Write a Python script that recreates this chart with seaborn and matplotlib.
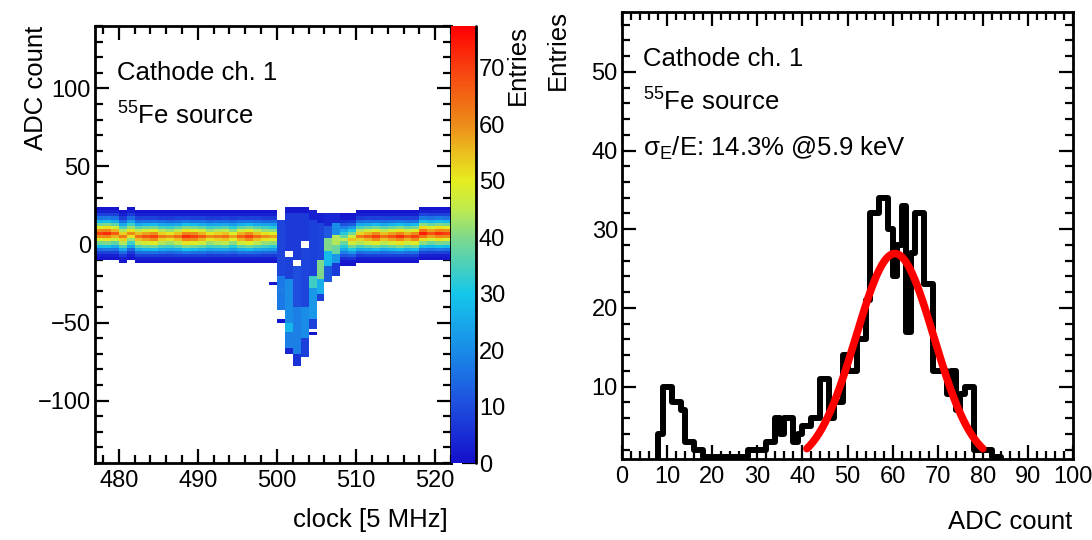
import numpy as np
import pandas as pd
import matplotlib
matplotlib.use("Agg")
import matplotlib.pyplot as plt
import seaborn as sns
from matplotlib.colors import LinearSegmentedColormap
from matplotlib.ticker import MultipleLocator

# ---------------- data: left panel (2D waveform histogram) ----------------
clock_range = (477, 522)
adc_range = (-140, 140)
adc_bin = 2

# baseline columns: clock, band centre (lower edge of centre ADC bin), peak entries
base_clock_left = list(range(477, 500))
base_center_left = [6, 6, 6, 4, 6, 4, 4, 4, 4, 4, 4, 4, 4, 4, 4, 4, 4, 4, 4, 4, 4, 4, 4]
base_peak_left = [70, 72, 66, 62, 60, 64, 68, 70, 62, 60, 64, 72, 70, 66, 60, 62, 64, 58, 66, 70, 64, 60, 58]
base_clock_right = list(range(508, 522))
base_center_right = [2, 2, 4, 4, 4, 4, 4, 4, 4, 4, 6, 6, 6, 6]
base_peak_right = [45, 55, 62, 66, 70, 64, 68, 72, 66, 70, 74, 68, 72, 70]

# band profile: entries vs ADC-bin offset from the band centre (for a peak of 68)
band_offsets = list(range(-8, 9))
band_profile = [1, 3, 8, 16, 27, 38, 48, 58, 68, 58, 48, 38, 27, 16, 8, 3, 1]

# pulse columns: runs of (top ADC, bottom ADC, entries per bin)
pulse_runs = {
    500: [(16, -20, 9), (-20, -42, 17), (-48, -50, 1)],
    501: [(24, 20, 2), (20, -4, 7), (-8, -22, 8), (-22, -50, 20), (-50, -56, 27), (-56, -66, 18), (-66, -70, 4)],
    502: [(24, 20, 2), (20, -10, 7), (-14, -40, 10), (-40, -70, 18), (-70, -78, 6)],
    503: [(24, 20, 2), (20, 2, 7), (-2, -40, 9), (-40, -60, 20), (-60, -72, 8)],
    504: [(22, 16, 3), (16, -20, 8), (-20, -28, 34), (-28, -48, 22), (-48, -54, 8)],
    505: [(20, 14, 3), (14, -10, 9), (-10, -22, 40), (-22, -32, 26), (-32, -36, 8)],
    506: [(20, 12, 4), (12, 4, 12), (4, -4, 40), (-4, -14, 28), (-14, -24, 12)],
    507: [(20, 14, 4), (14, 6, 20), (6, 0, 44), (0, -6, 38), (-6, -12, 22), (-12, -20, 7)],
}
outlier_cells = [(499, -26, 1), (504, -58, 1), (500, -30, 1)]

# ---------------- data: right panel (amplitude spectrum) ----------------
spec_edges = list(range(0, 101))
spec_entries = [0, 0, 0, 0, 0, 0, 0, 0, 4, 10,
                10, 8, 8, 7, 3, 3, 2, 2, 1, 1,
                1, 1, 1, 1, 1, 1, 1, 1, 2, 2,
                2, 2, 3, 3, 6, 4, 6, 6, 3, 4,
                5, 5, 6, 6, 11, 11, 6, 8, 8, 14,
                12, 12, 16, 16, 21, 32, 32, 34, 34, 30,
                24, 28, 33, 17, 27, 32, 32, 23, 23, 12,
                12, 12, 9, 12, 7, 9, 10, 10, 2, 2,
                2, 2, 1, 1, 0, 0, 0, 0, 0, 0,
                0, 0, 0, 0, 0, 0, 0, 0, 0, 0]
fit_amp, fit_mean, fit_sigma = 26.9, 60.5, 8.65
fit_range = (41, 80)

# ---------------- build tables ----------------
rows = []
for clocks, centers, peaks in ((base_clock_left, base_center_left, base_peak_left),
                               (base_clock_right, base_center_right, base_peak_right)):
    for c, ctr, pk in zip(clocks, centers, peaks):
        for off, prof in zip(band_offsets, band_profile):
            n = int(round(prof * pk / 68.0))
            if n > 0:
                rows.append((c + 0.5, ctr + off * adc_bin + 1, n))
for c, runs in pulse_runs.items():
    for top, bot, n in runs:
        for y in range(bot, top, adc_bin):
            rows.append((c + 0.5, y + 1, n))
for c, y, n in outlier_cells:
    rows.append((c + 0.5, y + 1, n))
df2d = pd.DataFrame(rows, columns=["clock", "adc", "entries"])

spec_df = pd.DataFrame({"adc": np.array(spec_edges[:-1]) + 0.5, "entries": spec_entries})
fit_x = np.linspace(fit_range[0], fit_range[1], 300)
fit_df = pd.DataFrame({"adc": fit_x,
                       "entries": fit_amp * np.exp(-0.5 * ((fit_x - fit_mean) / fit_sigma) ** 2)})

# ---------------- style ----------------
sns.set_style("ticks")
plt.rcParams["font.family"] = ["Liberation Sans", "DejaVu Sans"]
plt.rcParams["mathtext.fontset"] = "custom"
plt.rcParams["mathtext.rm"] = "Liberation Sans"
plt.rcParams["mathtext.it"] = "Liberation Sans:italic"
plt.rcParams["axes.linewidth"] = 1.8
for k in ["text.color", "axes.labelcolor", "xtick.color", "ytick.color", "axes.edgecolor",
          "xtick.labelcolor", "ytick.labelcolor"]:
    plt.rcParams[k] = "black"

W, H = 1092, 540
fig = plt.figure(figsize=(W / 100, H / 100), dpi=100)


def frac(x0, y0, x1, y1):
    return [x0 / W, 1 - y1 / H, (x1 - x0) / W, (y1 - y0) / H]


ax1 = fig.add_axes(frac(95, 26, 451, 463))
cax = fig.add_axes(frac(451, 26, 476, 463))
ax2 = fig.add_axes(frac(622, 12, 1073, 459))

vmax = 77.4
stops = [(0.0, (0.08, 0.06, 0.80)), (10 / vmax, (0.12, 0.30, 0.87)), (20 / vmax, (0.10, 0.55, 0.91)),
         (30 / vmax, (0.08, 0.78, 0.92)), (40 / vmax, (0.50, 0.85, 0.55)), (45 / vmax, (0.75, 0.92, 0.30)),
         (50 / vmax, (0.90, 0.93, 0.12)), (55 / vmax, (0.92, 0.75, 0.12)), (60 / vmax, (0.93, 0.55, 0.10)),
         (70 / vmax, (0.97, 0.25, 0.06)), (1.0, (1.0, 0.0, 0.0))]
cmap = LinearSegmentedColormap.from_list("rootrain", stops)

x_edges = np.arange(clock_range[0], clock_range[1] + 1, 1)
y_edges = np.arange(adc_range[0], adc_range[1] + adc_bin, adc_bin)
sns.histplot(data=df2d, x="clock", y="adc", weights="entries", bins=[x_edges, y_edges],
             cmap=cmap, vmin=0, vmax=vmax, cbar=True, cbar_ax=cax, ax=ax1, thresh=0)
mesh = ax1.collections[0]
mesh.set_clim(0, vmax)
mesh.set_edgecolor("face")
mesh.set_linewidth(0)
ax1.set_xlim(*clock_range)
ax1.set_ylim(*adc_range)
ax1.set_xlabel("")
ax1.set_ylabel("")


def root_ticks(ax, xmaj, xmin, ymaj, ymin):
    ax.xaxis.set_major_locator(MultipleLocator(xmaj))
    ax.xaxis.set_minor_locator(MultipleLocator(xmin))
    ax.yaxis.set_major_locator(MultipleLocator(ymaj))
    ax.yaxis.set_minor_locator(MultipleLocator(ymin))
    ax.tick_params(which="both", direction="in", top=True, right=True, width=1.6,
                   labelsize=17, colors="black")
    ax.tick_params(which="major", length=10)
    ax.tick_params(which="minor", length=5.5)
    ax.tick_params(axis="x", pad=5)
    ax.tick_params(axis="y", pad=3)
    for s in ax.spines.values():
        s.set_visible(True)
        s.set_linewidth(2.0)
        s.set_color("black")


root_ticks(ax1, 10, 2, 50, 10)

# colorbar
cax.set_ylim(0, vmax)
cax.yaxis.set_major_locator(MultipleLocator(10))
cax.yaxis.set_minor_locator(MultipleLocator(100))
cax.tick_params(axis="y", which="major", direction="in", right=True, left=False, length=10,
                width=1.6, labelsize=17, pad=2, colors="black")
try:
    mesh.colorbar.outline.set_visible(False)
except Exception:
    pass
cax.plot([1, 1], [0, 1], transform=cax.transAxes, color="black", lw=2.0, clip_on=False)

# right panel
sns.histplot(data=spec_df, x="adc", weights="entries", bins=spec_edges, element="step",
             fill=False, color="black", linewidth=4.3, ax=ax2)
sns.lineplot(data=fit_df, x="adc", y="entries", color="#ff0000", linewidth=5.5, ax=ax2)
ax2.set_xlim(0, 100)
ax2.set_ylim(0.8, 57.6)
ax2.set_xlabel("")
ax2.set_ylabel("")
root_ticks(ax2, 10, 2, 10, 2)

# texts
fs = 18.5
fig.text(117 / W, 1 - 73 / H, "Cathode ch. 1", fontsize=fs, va="center", ha="left")
fig.text(117 / W, 1 - 116 / H, r"$^{55}$Fe source", fontsize=fs, va="center", ha="left")
fig.text(643 / W, 1 - 59 / H, "Cathode ch. 1", fontsize=fs, va="center", ha="left")
fig.text(643 / W, 1 - 102 / H, r"$^{55}$Fe source", fontsize=fs, va="center", ha="left")
fig.text(643 / W, 1 - 148 / H, r"σ$_{\mathrm{E}}$/E: 14.3% @5.9 keV", fontsize=fs, va="center", ha="left")

fig.text(36 / W, 1 - 26 / H, "ADC count", rotation=90, fontsize=fs, va="top", ha="center")
fig.text(448 / W, 1 - 520 / H, "clock [5 MHz]", fontsize=fs, va="center", ha="right")
fig.text(518 / W, 1 - 25 / H, "Entries", rotation=90, fontsize=fs, va="top", ha="center")
fig.text(558 / W, 1 - 10 / H, "Entries", rotation=90, fontsize=fs, va="top", ha="center")
fig.text(1072 / W, 1 - 522 / H, "ADC count", fontsize=fs, va="center", ha="right")

fig.savefig("out.png", dpi=100)
